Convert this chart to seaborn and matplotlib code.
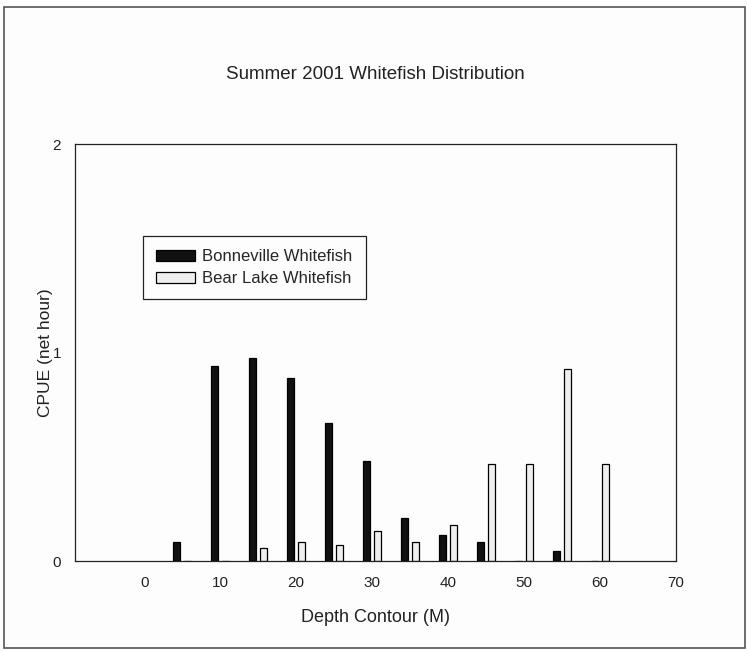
import matplotlib
matplotlib.use("Agg")
import matplotlib.pyplot as plt
from matplotlib.patches import Rectangle
import seaborn as sns
import pandas as pd

# Depth contours (m) and catch per unit effort for each species
depths = [5, 10, 15, 20, 25, 30, 35, 40, 45, 50, 55, 60]
bonneville = [0.090, 0.934, 0.974, 0.878, 0.660, 0.478, 0.205, 0.123, 0.090, 0.0, 0.048, 0.0]
bear_lake = [0.0, 0.0, 0.061, 0.090, 0.075, 0.144, 0.090, 0.173, 0.463, 0.463, 0.921, 0.463]
species = ["Bonneville Whitefish", "Bear Lake Whitefish"]
x_ticks = [0, 10, 20, 30, 40, 50, 60, 70]
y_ticks = [0, 1, 2]

df = pd.DataFrame({
    "depth": depths * 2,
    "species": [species[0]] * len(depths) + [species[1]] * len(depths),
    "cpue": bonneville + bear_lake,
})

sns.set_theme(style="white")
plt.rcParams["font.family"] = ["Liberation Sans", "DejaVu Sans"]

fig = plt.figure(figsize=(7.47, 6.51), dpi=100, facecolor="#fdfdfd")
ax = fig.add_axes([0.1004, 0.1382, 0.8046, 0.6406])
ax.set_facecolor("#fdfdfd")

sns.barplot(
    data=df, x="depth", y="cpue", hue="species", hue_order=species,
    palette={species[0]: "#111111", species[1]: "#efefef"},
    native_scale=True, width=0.58, gap=0.31, errorbar=None,
    edgecolor="black", linewidth=0.9, ax=ax,
)

ax.set_xlim(-9.1, 70)
ax.set_ylim(0, 2)
ax.set_xticks(x_ticks)
ax.set_yticks(y_ticks)
ax.tick_params(axis="both", which="major", direction="out", length=4,
               width=0.9, color="#222222", labelsize=11, labelcolor="#222222")
ax.tick_params(axis="x", pad=7)
ax.tick_params(axis="y", pad=6)
for s in ax.spines.values():
    s.set_visible(True)
    s.set_color("#222222")
    s.set_linewidth(0.9)

ax.set_xlabel("Depth Contour (M)", fontsize=13, color="#222222")
ax.xaxis.set_label_coords(0.5, -0.135)
ax.xaxis.label.set_va("center")
ax.set_ylabel("CPUE (net hour)", fontsize=12.5, color="#222222")
ax.yaxis.set_label_coords(-0.049, 0.5)
ax.yaxis.label.set_va("center")

handles, labels = ax.get_legend_handles_labels()
leg = ax.legend(
    handles, labels, loc="upper left", bbox_to_anchor=(0.113, 0.779),
    borderaxespad=0, frameon=True, fancybox=False, shadow=False,
    fontsize=12, handlelength=2.3, handleheight=0.65, handletextpad=0.45,
    labelspacing=0.4, borderpad=0.8, edgecolor="#222222",
)
leg.get_frame().set_linewidth(0.9)
leg.get_frame().set_facecolor("#fdfdfd")
leg.get_frame().set_alpha(1)

fig.text(0.503, 0.885, "Summer 2001 Whitefish Distribution", ha="center",
         va="center", fontsize=13.5, color="#222222")

# thin frame round the whole figure
fig.patches.append(Rectangle((4 / 747, 3 / 651), 741 / 747, 641 / 651,
                             transform=fig.transFigure, fill=False,
                             edgecolor="#555555", linewidth=1.2))

fig.savefig("out.png", dpi=100, facecolor=fig.get_facecolor())
